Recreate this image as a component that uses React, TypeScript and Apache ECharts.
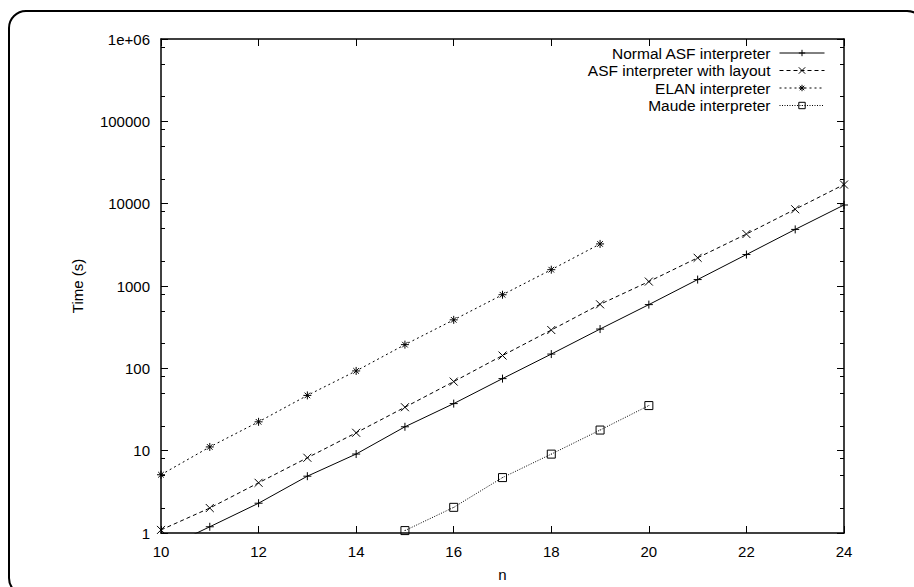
import React, { useEffect, useRef } from "react";
import * as echarts from "echarts";

const nValues = [10, 11, 12, 13, 14, 15, 16, 17, 18, 19, 20, 21, 22, 23, 24];
const normalAsf = [0.62, 1.19, 2.3, 4.9, 9.1, 19.5, 37.3, 75, 149, 300, 594, 1197, 2411, 4867, 9634];
const layoutAsf = [1.09, 2.01, 4.07, 8.2, 16.5, 33.7, 69, 143, 292, 599, 1132, 2201, 4277, 8550, 17070];
const elanN = [10, 11, 12, 13, 14, 15, 16, 17, 18, 19];
const elanValues = [5.1, 11.1, 22.4, 46.9, 93, 194, 388, 783, 1578, 3243];
const maudeN = [15, 16, 17, 18, 19, 20];
const maudeValues = [1.07, 2.05, 4.71, 9.08, 17.8, 35.3];

const seriesNames = [
  "Normal ASF interpreter",
  "ASF interpreter with layout",
  "ELAN interpreter",
  "Maude interpreter",
];
const yTickLabels = ["1", "10", "100", "1000", "10000", "100000", "1e+06"];
const yMajorTicks = [1, 10, 100, 1000, 10000, 100000, 1000000];
const yMinorTicks = [
  2, 5, 8, 20, 50, 80, 200, 500, 800, 2000, 5000, 8000, 20000, 50000, 80000,
  200000, 500000, 800000,
];

const FONT = "Liberation Sans, Arial, Helvetica, sans-serif";

const SYM_PLUS = "path://M5,0L5,10M0,5L10,5";
const SYM_CROSS = "path://M0,0L10,10M10,0L0,10";
const SYM_STAR = "path://M5,0L5,10M0,5L10,5M1.5,1.5L8.5,8.5M8.5,1.5L1.5,8.5";
const SYM_BOX = "path://M0,0L10,0L10,10L0,10ZM5,4.6L5,5.4";

function pairs(xs: number[], ys: number[]) {
  return xs.map((x, i) => [x, ys[i]]);
}

export default function App() {
  const ref = useRef<HTMLDivElement>(null);
  useEffect(() => {
    if (!ref.current) return;
    const chart = echarts.init(ref.current, null, { renderer: "svg" });
    const axisLine = { show: true, lineStyle: { color: "#000", width: 1.5 } };
    const mkSeries = (
      name: string,
      data: number[][],
      symbol: string,
      type: any
    ) => ({
      name,
      type: "line",
      data,
      symbol,
      symbolSize: 8,
      showSymbol: true,
      clip: true,
      lineStyle: { color: "#000", width: 1, type },
      itemStyle: { color: "transparent", borderColor: "#000", borderWidth: 1 },
      emphasis: { disabled: true },
      z: 3,
    });
    const legendTops = [45, 62.5, 80, 97.5];
    chart.setOption({
      animation: false,
      backgroundColor: "#fff",
      textStyle: { fontFamily: FONT },
      graphic: [
        {
          type: "rect",
          shape: { x: 9, y: 11, width: 915, height: 584, r: 17 },
          style: { fill: "none", stroke: "#000", lineWidth: 2 },
          silent: true,
          z: 100,
        },
      ],
      legend: seriesNames.map((nm, i) => ({
        data: [nm],
        orient: "vertical",
        align: "right",
        right: 89,
        top: legendTops[i],
        padding: 0,
        itemWidth: 45,
        itemHeight: 8,
        selectedMode: false,
        itemStyle: { borderWidth: 1, borderColor: "#000", color: "transparent" },
        lineStyle: { width: 1, color: "#000" },
        textStyle: {
          fontSize: 15.5,
          color: "#000",
          fontFamily: FONT,
          padding: [0, 4, 0, 0],
        },
      })),
      grid: { left: 161, top: 39, right: 70, bottom: 49, containLabel: false },
      xAxis: [
        {
          type: "value",
          min: 10,
          max: 24,
          interval: 2,
          position: "bottom",
          name: "n",
          nameLocation: "middle",
          nameGap: 34,
          nameTextStyle: { fontSize: 15, color: "#000", fontFamily: FONT },
          axisLine,
          axisTick: { show: true, inside: true, length: 7, lineStyle: { color: "#000", width: 1 } },
          axisLabel: { color: "#000", fontSize: 15, margin: 11, fontFamily: FONT },
          splitLine: { show: false },
        },
        {
          type: "value",
          min: 10,
          max: 24,
          interval: 2,
          position: "top",
          axisLine,
          axisTick: { show: true, inside: true, length: 7, lineStyle: { color: "#000", width: 1 } },
          axisLabel: { show: false },
          splitLine: { show: false },
        },
      ],
      yAxis: [
        {
          type: "log",
          logBase: 10,
          min: 1,
          max: 1000000,
          position: "left",
          name: "Time (s)",
          nameLocation: "middle",
          nameRotate: 90,
          nameGap: 76,
          nameTextStyle: { fontSize: 15, color: "#000", fontFamily: FONT },
          axisLine,
          axisTick: {
            show: true,
            inside: true,
            length: 7,
            customValues: yMajorTicks,
            lineStyle: { color: "#000", width: 1 },
          },
          axisLabel: {
            color: "#000",
            fontSize: 15,
            margin: 11,
            fontFamily: FONT,
            customValues: yMajorTicks,
            formatter: (v: number) => {
              const idx = yMajorTicks.findIndex((t) => Math.abs(t - v) / t < 1e-6);
              return idx >= 0 ? yTickLabels[idx] : "";
            },
          },
          splitLine: { show: false },
        },
        {
          type: "log",
          logBase: 10,
          min: 1,
          max: 1000000,
          position: "right",
          axisLine,
          axisTick: {
            show: true,
            inside: true,
            length: 7,
            customValues: yMajorTicks,
            lineStyle: { color: "#000", width: 1 },
          },
          axisLabel: { show: false },
          splitLine: { show: false },
        },
        {
          type: "log",
          logBase: 10,
          min: 1,
          max: 1000000,
          position: "left",
          offset: 0,
          axisLine: { show: false },
          axisTick: {
            show: true,
            inside: true,
            length: 4,
            customValues: yMinorTicks,
            lineStyle: { color: "#000", width: 1 },
          },
          axisLabel: { show: false },
          splitLine: { show: false },
        },
        {
          type: "log",
          logBase: 10,
          min: 1,
          max: 1000000,
          position: "right",
          offset: 0,
          axisLine: { show: false },
          axisTick: {
            show: true,
            inside: true,
            length: 4,
            customValues: yMinorTicks,
            lineStyle: { color: "#000", width: 1 },
          },
          axisLabel: { show: false },
          splitLine: { show: false },
        },
      ],
      series: [
        mkSeries(seriesNames[0], pairs(nValues, normalAsf), SYM_PLUS, "solid"),
        mkSeries(seriesNames[1], pairs(nValues, layoutAsf), SYM_CROSS, [4, 3]),
        mkSeries(seriesNames[2], pairs(elanN, elanValues), SYM_STAR, [2, 3]),
        mkSeries(seriesNames[3], pairs(maudeN, maudeValues), SYM_BOX, [1, 1.5]),
      ],
    });
    return () => chart.dispose();
  }, []);
  return (
    <div
      ref={ref}
      style={{ position: "fixed", left: 0, top: 0, width: 914, height: 587 }}
    />
  );
}
